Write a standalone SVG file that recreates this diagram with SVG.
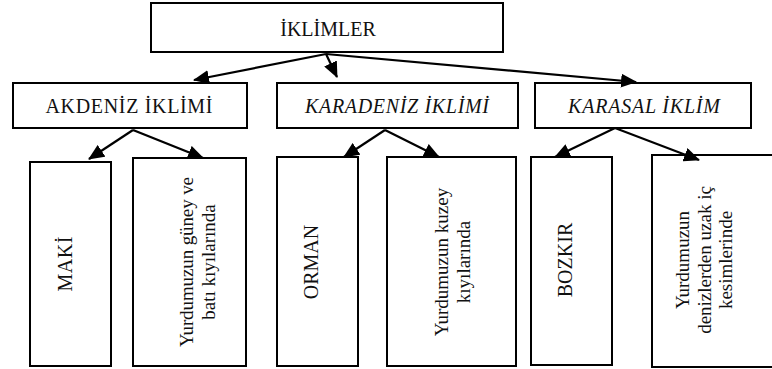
<svg xmlns="http://www.w3.org/2000/svg" width="772" height="369" viewBox="0 0 772 369">
<defs>
<marker id="ah" markerUnits="userSpaceOnUse" markerWidth="16" markerHeight="14" refX="15" refY="7" orient="auto">
<path d="M0,0 L16,7 L0,14 z" fill="#000"/>
</marker>
<style>
.box{fill:#fff;stroke:#000;stroke-width:2}
text{font-family:'Liberation Serif','Times New Roman','DejaVu Serif',serif;fill:#111}
.t{font-size:20px}
.i{font-style:italic}
.v{font-size:19px}
.c line{stroke:#000;stroke-width:2.2;marker-end:url(#ah)}
</style>
</defs>
<rect width="772" height="369" fill="#fff"/>
<g id="iklimler"><rect class="box" x="151" y="3" width="352" height="49"/><text class="t" x="328" y="36" text-anchor="middle" font-family="Liberation Serif">İKLİMLER</text></g>
<g id="akdeniz"><rect class="box" x="13" y="83" width="234" height="45"/><text class="t" x="129" y="113" text-anchor="middle" textLength="167">AKDENİZ İKLİMİ</text></g>
<g id="karadeniz"><rect class="box" x="277" y="83" width="241" height="45"/><text class="t i" x="397" y="113" text-anchor="middle" textLength="184">KARADENİZ İKLİMİ</text></g>
<g id="karasal"><rect class="box" x="535" y="83" width="216" height="45"/><text class="t i" x="644" y="113" text-anchor="middle" textLength="152">KARASAL İKLİM</text></g>
<g id="maki"><rect class="box" x="30" y="162" width="81" height="204"/><text class="t" transform="translate(72,264) rotate(-90)" text-anchor="middle" textLength="55">MAKİ</text></g>
<g id="akdeniz-yer"><rect class="box" x="133" y="158" width="113" height="208"/><text class="v" transform="translate(193,262) rotate(-90)" text-anchor="middle"><tspan x="0" y="0" textLength="170">Yurdumuzun güney ve</tspan><tspan x="0" y="22">batı kıyılarında</tspan></text></g>
<g id="orman"><rect class="box" x="277" y="157" width="81" height="209"/><text class="t" transform="translate(318,262) rotate(-90)" text-anchor="middle">ORMAN</text></g>
<g id="karadeniz-yer"><rect class="box" x="387" y="157" width="129" height="209"/><text class="v" transform="translate(448,262) rotate(-90)" text-anchor="middle"><tspan x="0" y="0">Yurdumuzun kuzey</tspan><tspan x="0" y="22">kıyılarında</tspan></text></g>
<g id="bozkir"><rect class="box" x="531" y="157" width="81" height="208"/><text class="t" transform="translate(572,260) rotate(-90)" text-anchor="middle">BOZKIR</text></g>
<g id="karasal-yer"><rect class="box" x="652" y="155" width="124" height="212"/><text class="v" transform="translate(689,260) rotate(-90)" text-anchor="middle"><tspan x="0" y="0">Yurdumuzun</tspan><tspan x="0" y="21.5">denizlerden uzak iç</tspan><tspan x="0" y="43">kesimlerinde</tspan></text></g>
<g id="connectors" class="c">
<line x1="326" y1="54" x2="194" y2="80"/>
<line x1="326" y1="54" x2="337" y2="77"/>
<line x1="326" y1="54" x2="636" y2="82"/>
<line x1="133" y1="130" x2="89" y2="159"/>
<line x1="133" y1="130" x2="203" y2="158"/>
<line x1="385" y1="130" x2="344" y2="157"/>
<line x1="385" y1="130" x2="439" y2="157"/>
<line x1="615" y1="128" x2="555" y2="157"/>
<line x1="615" y1="128" x2="699" y2="160"/>
</g>
</svg>
